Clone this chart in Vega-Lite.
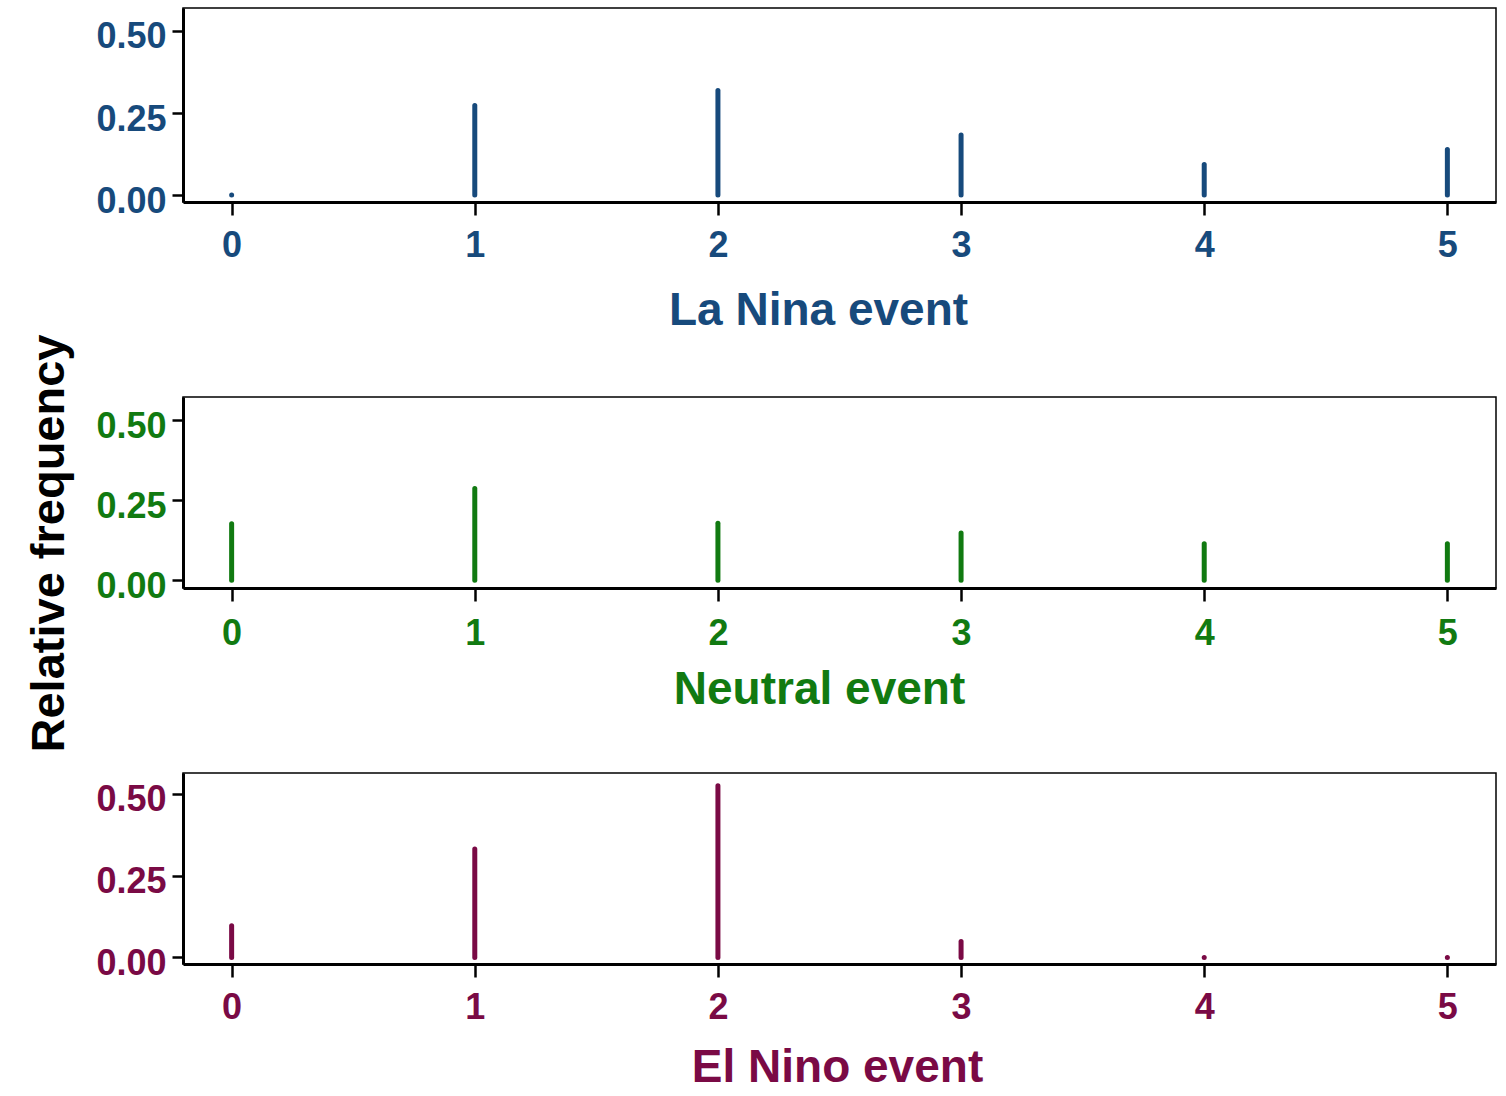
{
  "$schema": "https://vega.github.io/schema/vega-lite/v6.json",
  "background": "white",
  "padding": {"left": 25, "top": 7, "right": 6, "bottom": 6},
  "config": {
    "font": "Liberation Sans",
    "view": {"stroke": "black", "strokeWidth": 1.5},
    "axis": {
      "labelFont": "Liberation Sans", "titleFont": "Liberation Sans",
      "labelFontWeight": "bold", "titleFontWeight": "bold",
      "domainColor": "black", "domainWidth": 3,
      "tickColor": "black", "tickWidth": 2.5,
      "grid": false, "labelFontSize": 36, "titleFontSize": 46
    }
  },
  "datasets": {
    "lanina": [
      {"count": 0, "freq": 0}, {"count": 1, "freq": 0.273}, {"count": 2, "freq": 0.319},
      {"count": 3, "freq": 0.183}, {"count": 4, "freq": 0.093}, {"count": 5, "freq": 0.139}
    ],
    "neutral": [
      {"count": 0, "freq": 0.177}, {"count": 1, "freq": 0.287}, {"count": 2, "freq": 0.178},
      {"count": 3, "freq": 0.148}, {"count": 4, "freq": 0.114}, {"count": 5, "freq": 0.114}
    ],
    "elnino": [
      {"count": 0, "freq": 0.097}, {"count": 1, "freq": 0.331}, {"count": 2, "freq": 0.524},
      {"count": 3, "freq": 0.049}, {"count": 4, "freq": 0}, {"count": 5, "freq": 0}
    ]
  },
  "spacing": 195,
  "bounds": "flush",
  "vconcat": [
    {
      "width": 1313, "height": 194,
      "data": {"name": "lanina"},
      "mark": {"type": "rule", "strokeWidth": 5, "strokeCap": "round", "color": "#174a7c"},
      "encoding": {
        "x": {"field": "count", "type": "quantitative",
          "scale": {"domain": [-0.2, 5.2], "nice": false, "zero": false},
          "axis": {"values": [0, 1, 2, 3, 4, 5], "format": "d", "title": "La Nina event",
            "labelColor": "#174a7c", "titleColor": "#174a7c", "tickSize": 13, "labelPadding": 13,
            "titlePadding": 25, "titleX": 635, "labelFlush": false}},
        "y": {"field": "freq", "type": "quantitative",
          "scale": {"domain": [-0.021, 0.57], "nice": false, "zero": false},
          "axis": {"values": [0, 0.25, 0.5], "format": ".2f", "title": null,
            "labelColor": "#174a7c", "tickSize": 11, "labelPadding": 6, "labelOffset": 6}},
        "y2": {"datum": 0}
      }
    },
    {
      "spacing": 185,
      "bounds": "flush",
      "vconcat": [
        {
          "width": 1313, "height": 191,
          "data": {"name": "neutral"},
          "mark": {"type": "rule", "strokeWidth": 5, "strokeCap": "round", "color": "#117a11"},
          "encoding": {
            "x": {"field": "count", "type": "quantitative",
              "scale": {"domain": [-0.2, 5.2], "nice": false, "zero": false},
              "axis": {"values": [0, 1, 2, 3, 4, 5], "format": "d", "title": "Neutral event",
                "labelColor": "#117a11", "titleColor": "#117a11", "tickSize": 13, "labelPadding": 15,
                "titlePadding": 16, "titleX": 636, "labelFlush": false}},
            "y": {"field": "freq", "type": "quantitative",
              "scale": {"domain": [-0.024, 0.573], "nice": false, "zero": false},
              "axis": {"values": [0, 0.25, 0.5], "format": ".2f", "title": "Relative frequency",
                "titleColor": "black", "titleFontSize": 47, "titlePadding": 22, "titleY": 146,
                "labelColor": "#117a11", "tickSize": 11, "labelPadding": 6, "labelOffset": 6}},
            "y2": {"datum": 0}
          }
        },
        {
          "width": 1313, "height": 191,
          "data": {"name": "elnino"},
          "mark": {"type": "rule", "strokeWidth": 5, "strokeCap": "round", "color": "#7a0a45"},
          "encoding": {
            "x": {"field": "count", "type": "quantitative",
              "scale": {"domain": [-0.2, 5.2], "nice": false, "zero": false},
              "axis": {"values": [0, 1, 2, 3, 4, 5], "format": "d", "title": "El Nino event",
                "labelColor": "#7a0a45", "titleColor": "#7a0a45", "tickSize": 13, "labelPadding": 13,
                "titlePadding": 20, "titleX": 654, "labelFlush": false}},
            "y": {"field": "freq", "type": "quantitative",
              "scale": {"domain": [-0.02, 0.563], "nice": false, "zero": false},
              "axis": {"values": [0, 0.25, 0.5], "format": ".2f", "title": null,
                "labelColor": "#7a0a45", "tickSize": 11, "labelPadding": 6, "labelOffset": 6}},
            "y2": {"datum": 0}
          }
        }
      ]
    }
  ]
}
